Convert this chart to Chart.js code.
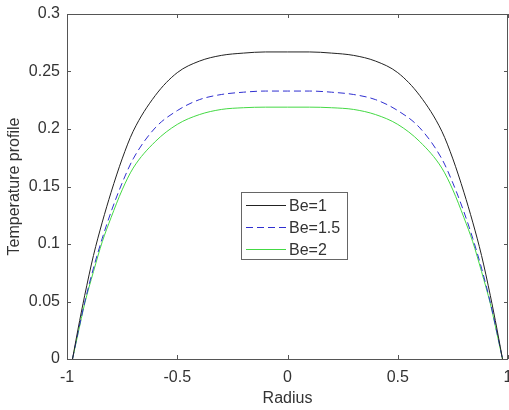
<!DOCTYPE html>
<html>
<head>
<meta charset="utf-8">
<script src="https://cdn.jsdelivr.net/npm/chart.js@4.4.0/dist/chart.umd.min.js"></script>
<style>
  html, body { margin: 0; padding: 0; background: #fff; overflow: hidden; }
  #wrap { width: 509px; height: 410px; }
</style>
</head>
<body>
<div id="wrap"><canvas id="tempChart"></canvas></div>
<script>
// radius positions and temperature readings per Bingham number
var radius = [-0.975, -0.95, -0.92, -0.88, -0.84, -0.8, -0.75, -0.7, -0.6, -0.5, -0.4, -0.3, -0.2, -0.1, 0,
              0.1, 0.2, 0.3, 0.4, 0.5, 0.6, 0.7, 0.75, 0.8, 0.84, 0.88, 0.92, 0.95, 0.975];
var be1   = [0, 0.026, 0.055, 0.09, 0.119, 0.145, 0.174, 0.198, 0.229, 0.249, 0.259, 0.264, 0.266, 0.267, 0.267,
             0.267, 0.266, 0.264, 0.259, 0.249, 0.229, 0.198, 0.174, 0.145, 0.119, 0.09, 0.055, 0.026, 0];
var be15  = [0, 0.023, 0.049, 0.079, 0.105, 0.128, 0.153, 0.174, 0.201, 0.216, 0.2255, 0.23, 0.232, 0.233, 0.233,
             0.233, 0.232, 0.23, 0.2255, 0.216, 0.201, 0.174, 0.153, 0.128, 0.105, 0.079, 0.049, 0.023, 0];
var be2   = [0, 0.022, 0.048, 0.076, 0.102, 0.123, 0.147, 0.166, 0.189, 0.204, 0.2125, 0.217, 0.2185, 0.219, 0.219,
             0.219, 0.2185, 0.217, 0.2125, 0.204, 0.189, 0.166, 0.147, 0.123, 0.102, 0.076, 0.048, 0.022, 0];
var seriesNames = ['Be=1', 'Be=1.5', 'Be=2'];
var xTicks = [-1, -0.5, 0, 0.5, 1];
var yTicks = [0, 0.05, 0.1, 0.15, 0.2, 0.25, 0.3];

var FONT = 'Liberation Sans, Arial, Helvetica, sans-serif';
var TXT = '#333';
var AXIS = '#555';

function pts(vals) {
    return radius.map(function (r, i) { return { x: r, y: vals[i] }; });
}

// box round the axes plus inward tick marks, MATLAB style
var boxPlugin = {
    id: 'box',
    afterDraw: function (chart) {
        var a = chart.chartArea, c = chart.ctx;
        var xs = chart.scales.x, ys = chart.scales.y;
        c.save();
        c.strokeStyle = AXIS;
        c.lineWidth = 1;
        c.strokeRect(Math.round(a.left) + 0.5, Math.round(a.top) + 0.5,
                     Math.round(a.right - a.left) - 1, Math.round(a.bottom - a.top));
        c.beginPath();
        xTicks.forEach(function (v) {
            var px = Math.round(xs.getPixelForValue(v)) + 0.5;
            c.moveTo(px, a.bottom); c.lineTo(px, a.bottom - 4);
            c.moveTo(px, a.top); c.lineTo(px, a.top + 4);
        });
        yTicks.forEach(function (v) {
            var py = Math.round(ys.getPixelForValue(v)) + 0.5;
            c.moveTo(a.left, py); c.lineTo(a.left + 4, py);
            c.moveTo(a.right, py); c.lineTo(a.right - 4, py);
        });
        c.stroke();
        c.restore();
    }
};

// legend box sitting inside the axes
var legendPlugin = {
    id: 'boxLegend',
    afterDraw: function (chart) {
        var c = chart.ctx;
        var lx = 241, ly = 192, lw = 106, lh = 67;
        c.save();
        c.fillStyle = '#fff';
        c.fillRect(lx, ly, lw, lh);
        c.strokeStyle = '#666';
        c.lineWidth = 1;
        c.strokeRect(lx + 0.5, ly + 0.5, lw, lh);
        c.font = '16px ' + FONT;
        c.textBaseline = 'middle';
        chart.data.datasets.forEach(function (ds, i) {
            var y = Math.round(ly + 13 + i * 22) + 0.5;
            c.strokeStyle = ds.borderColor;
            c.lineWidth = ds.borderWidth;
            c.setLineDash(ds.borderDash || []);
            c.beginPath();
            c.moveTo(lx + 5, y); c.lineTo(lx + 45, y);
            c.stroke();
            c.setLineDash([]);
            c.fillStyle = TXT;
            c.fillText(ds.label, lx + 48, y + 1);
        });
        c.restore();
    }
};

var ctx = document.getElementById('tempChart');
var myChart = new Chart(ctx, {
    type: 'line',
    data: {
        datasets: [{
            label: seriesNames[0],
            data: pts(be1),
            borderColor: '#222222',
            borderWidth: 1,
            pointRadius: 0,
            cubicInterpolationMode: 'monotone'
        }, {
            label: seriesNames[1],
            data: pts(be15),
            borderColor: '#2f2fd0',
            borderWidth: 1,
            borderDash: [7, 4],
            pointRadius: 0,
            cubicInterpolationMode: 'monotone'
        }, {
            label: seriesNames[2],
            data: pts(be2),
            borderColor: '#44d944',
            borderWidth: 1,
            pointRadius: 0,
            cubicInterpolationMode: 'monotone'
        }]
    },
    options: {
        responsive: true,
        maintainAspectRatio: false,
        animation: false,
        layout: { padding: { top: 14, right: 1, left: 0, bottom: 0 }, autoPadding: false },
        plugins: {
            legend: { display: false },
            tooltip: { enabled: false }
        },
        scales: {
            x: {
                type: 'linear',
                min: -1,
                max: 1,
                afterFit: function (s) { s.height = 51; s.paddingLeft = 0; s.paddingRight = 0; },
                afterBuildTicks: function (s) { s.ticks = xTicks.map(function (v) { return { value: v }; }); },
                grid: { display: false, drawTicks: false },
                border: { display: false },
                ticks: {
                    padding: 9,
                    maxRotation: 0,
                    color: TXT,
                    font: { family: FONT, size: 16 },
                    callback: function (v) { return String(+v.toFixed(2)); }
                },
                title: {
                    display: true,
                    text: 'Radius',
                    color: TXT,
                    font: { family: FONT, size: 16 },
                    padding: { top: 0, bottom: 2 }
                }
            },
            y: {
                min: 0,
                max: 0.3,
                afterFit: function (s) { s.width = 67; s.paddingTop = 0; s.paddingBottom = 0; },
                afterBuildTicks: function (s) { s.ticks = yTicks.map(function (v) { return { value: v }; }); },
                grid: { display: false, drawTicks: false },
                border: { display: false },
                ticks: {
                    padding: 7,
                    color: TXT,
                    font: { family: FONT, size: 16 },
                    callback: function (v) { return String(+v.toFixed(2)); }
                },
                title: {
                    display: true,
                    text: 'Temperature profile',
                    color: TXT,
                    font: { family: FONT, size: 16 },
                    padding: { top: 5, bottom: 0 }
                }
            }
        }
    },
    plugins: [boxPlugin, legendPlugin]
});
</script>
</body>
</html>
